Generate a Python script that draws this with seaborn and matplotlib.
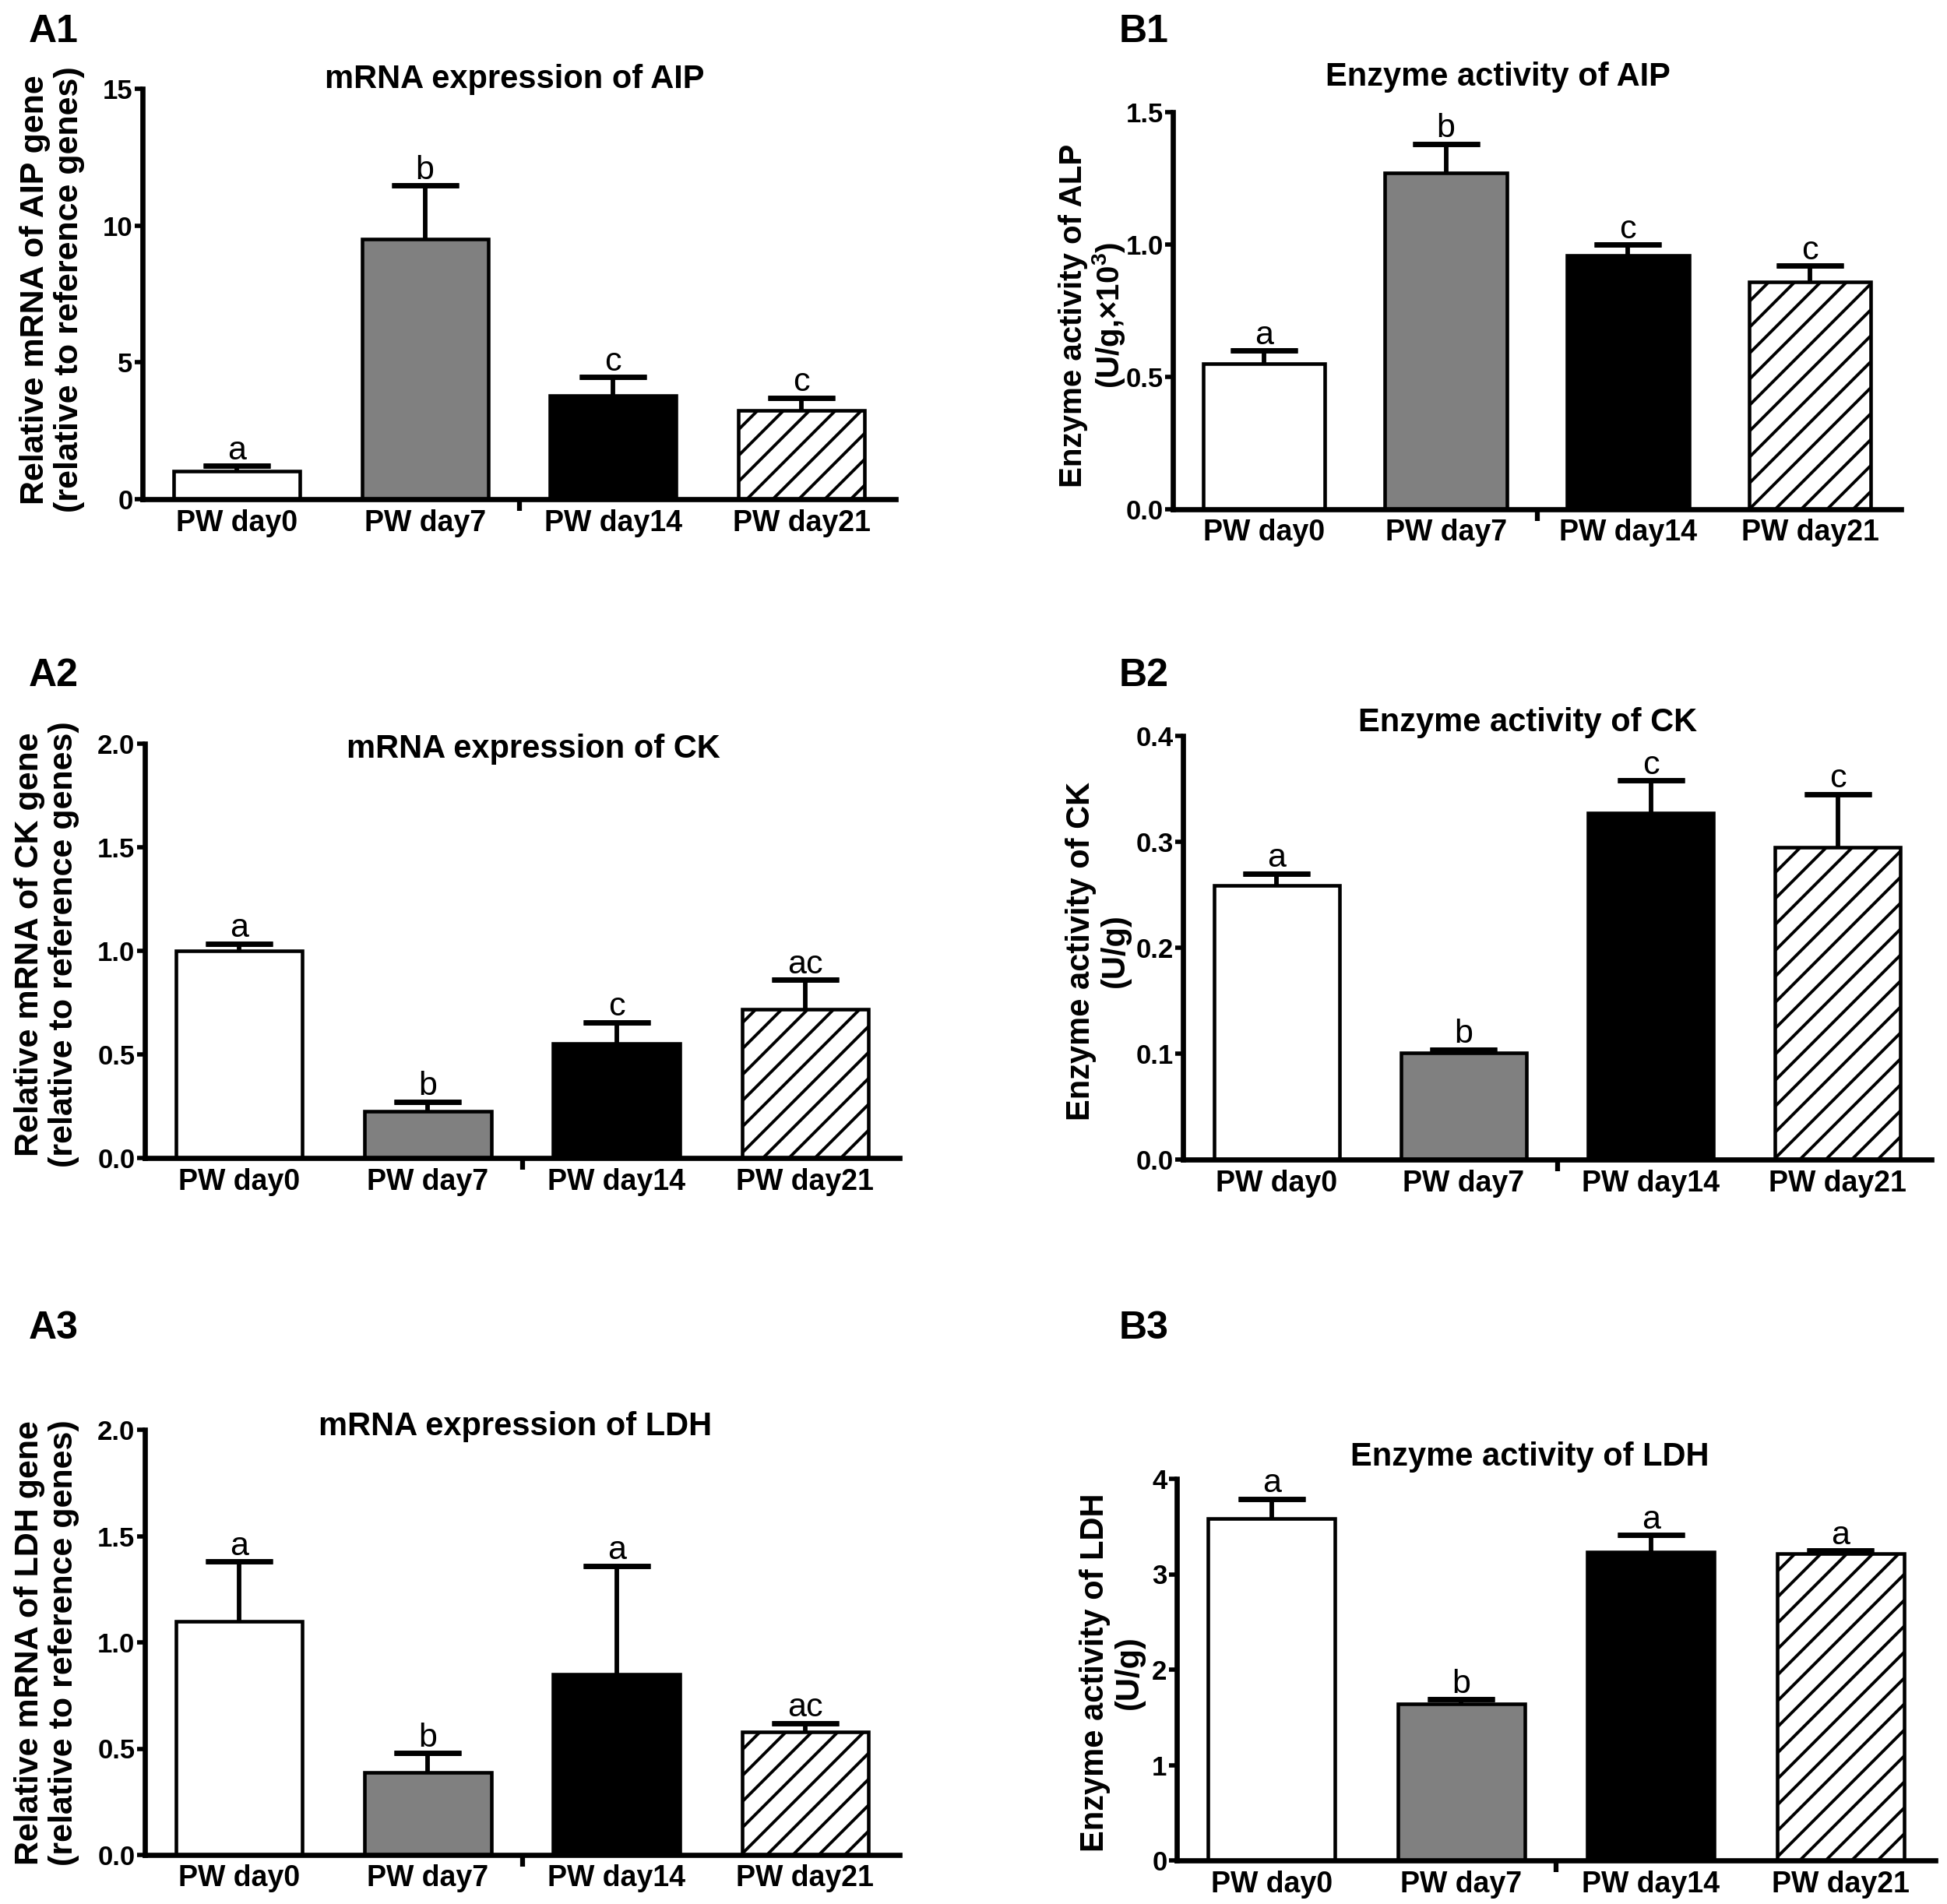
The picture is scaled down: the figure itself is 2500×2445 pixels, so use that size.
import numpy as np
import pandas as pd
import matplotlib
matplotlib.use('Agg')
import matplotlib.pyplot as plt
from matplotlib.ticker import FormatStrFormatter
import seaborn as sns

sns.set_style('white')
plt.rcParams['font.family'] = ['Liberation Sans', 'DejaVu Sans']
plt.rcParams['mathtext.fontset'] = 'custom'
plt.rcParams['mathtext.rm'] = 'Liberation Sans'
plt.rcParams['mathtext.bf'] = 'Liberation Sans:bold'
plt.rcParams['hatch.linewidth'] = 2.8
plt.rcParams['text.color'] = 'black'
plt.rcParams['axes.edgecolor'] = 'black'
plt.rcParams['axes.labelcolor'] = 'black'
plt.rcParams['xtick.color'] = 'black'
plt.rcParams['ytick.color'] = 'black'

groups = ['PW day0', 'PW day7', 'PW day14', 'PW day21']
bar_colors = ['white', '#808080', 'black', 'white']

# A: mRNA expression (relative to reference genes)
aip_mrna = [1.02, 9.52, 3.79, 3.25]
aip_mrna_err = [0.19, 1.95, 0.68, 0.46]
aip_mrna_sig = ['a', 'b', 'c', 'c']

ck_mrna = [1.00, 0.225, 0.553, 0.718]
ck_mrna_err = [0.035, 0.047, 0.103, 0.142]
ck_mrna_sig = ['a', 'b', 'c', 'ac']

ldh_mrna = [1.10, 0.39, 0.85, 0.58]
ldh_mrna_err = [0.28, 0.09, 0.51, 0.04]
ldh_mrna_sig = ['a', 'b', 'a', 'ac']

# B: enzyme activity
alp_act = [0.55, 1.27, 0.96, 0.86]
alp_act_err = [0.05, 0.11, 0.04, 0.06]
alp_act_sig = ['a', 'b', 'c', 'c']

ck_act = [0.259, 0.101, 0.327, 0.295]
ck_act_err = [0.011, 0.003, 0.031, 0.050]
ck_act_sig = ['a', 'b', 'c', 'c']

ldh_act = [3.58, 1.64, 3.23, 3.22]
ldh_act_err = [0.21, 0.05, 0.18, 0.03]
ldh_act_sig = ['a', 'b', 'a', 'a']

W, H = 2500, 2445
fig = plt.figure(figsize=(W / 100, H / 100), dpi=100)


def rect(l, b, r, t):
    return [l / W, 1 - b / H, (r - l) / W, (b - t) / H]


panels = [
    # name, values, errors, letters, axes box px, ymax, yticks, fmt, title, title xy, ylabel, ylabel xy, ylabel size
    ('A1', aip_mrna, aip_mrna_err, aip_mrna_sig, (183, 641, 1150, 114), 15, [0, 5, 10, 15], '%d',
     'mRNA expression of AIP', (661, 102),
     'Relative mRNA of AIP gene\n(relative to reference genes)', (67, 372), 31),
    ('B1', alp_act, alp_act_err, alp_act_sig, (1506, 654, 2441, 144), 1.5, [0, 0.5, 1.0, 1.5], '%.1f',
     'Enzyme activity of AIP', (1923, 99),
     'Enzyme activity of ALP\n(U/g,×10$^{\\mathbf{3}}$)', (1403, 405), 29),
    ('A2', ck_mrna, ck_mrna_err, ck_mrna_sig, (186, 1487, 1155, 955), 2.0, [0, 0.5, 1.0, 1.5, 2.0], '%.1f',
     'mRNA expression of CK', (685, 962),
     'Relative mRNA of CK gene\n(relative to reference genes)', (60, 1213), 31),
    ('B2', ck_act, ck_act_err, ck_act_sig, (1519, 1489, 2480, 945), 0.4, [0, 0.1, 0.2, 0.3, 0.4], '%.1f',
     'Enzyme activity of CK', (1962, 928),
     'Enzyme activity of CK\n(U/g)', (1410, 1221), 30),
    ('A3', ldh_mrna, ldh_mrna_err, ldh_mrna_sig, (186, 2382, 1155, 1836), 2.0, [0, 0.5, 1.0, 1.5, 2.0], '%.1f',
     'mRNA expression of LDH', (662, 1832),
     'Relative mRNA of LDH gene\n(relative to reference genes)', (60, 2110), 31),
    ('B3', ldh_act, ldh_act_err, ldh_act_sig, (1511, 2389, 2485, 1899), 4, [0, 1, 2, 3, 4], '%d',
     'Enzyme activity of LDH', (1964, 1871),
     'Enzyme activity of LDH\n(U/g)', (1428, 2148), 30),
]

panel_label_pos = {'A1': (37, 54), 'B1': (1437, 54), 'A2': (37, 881), 'B2': (1437, 881),
                   'A3': (37, 1719), 'B3': (1437, 1719)}

for (name, vals, errs, sig, box, ymax, yticks, fmt, title, txy, ylab, lxy, lsize) in panels:
    ax = fig.add_axes(rect(*box))
    df = pd.DataFrame({'group': groups, 'value': vals})
    sns.barplot(data=df, x='group', y='value', hue='group', palette=bar_colors,
                width=0.67, edgecolor='black', linewidth=3.3, errorbar=None,
                saturation=1, legend=False, ax=ax, zorder=2)
    ax.patches[3].set_hatch('/')

    xs = np.arange(len(groups))
    tops = np.array(vals) + np.array(errs)
    # stem from bar top upwards, cap only at the upper end
    ax.errorbar(xs, vals, yerr=[np.zeros(len(vals)), errs], fmt='none', ecolor='black',
                elinewidth=4.2, capsize=0, zorder=1)
    ax.errorbar(xs, tops, yerr=np.zeros(len(vals)), fmt='none', ecolor='black',
                elinewidth=0, capsize=31, capthick=4.8, zorder=1)
    for x, t, s in zip(xs, tops, sig):
        ax.annotate(s, (x, t), xytext=(0, 6), textcoords='offset points',
                    ha='center', va='baseline', fontsize=31, annotation_clip=False)

    ax.set_xlim(-0.5, 3.5)
    ax.set_ylim(0, ymax)
    ax.set_yticks(yticks)
    ax.yaxis.set_major_formatter(FormatStrFormatter(fmt))
    ax.set_xlabel('')
    ax.set_ylabel('')
    sns.despine(ax=ax)
    for sp in ['left', 'bottom']:
        ax.spines[sp].set_linewidth(4.8)
    ax.tick_params(axis='y', direction='out', length=7, width=4, pad=2, labelsize=25, left=True)
    ax.tick_params(axis='x', which='major', length=0, pad=9, labelsize=27)
    ax.set_xticks([1.5], minor=True)
    ax.tick_params(axis='x', which='minor', direction='out', length=11, width=4.5, bottom=True)
    for lab in ax.get_xticklabels() + ax.get_yticklabels():
        lab.set_fontweight('bold')

    fig.text(txy[0] / W, 1 - txy[1] / H, title, ha='center', va='center',
             fontsize=30, fontweight='bold')
    fig.text(lxy[0] / W, 1 - lxy[1] / H, ylab, rotation=90, ha='center', va='center',
             multialignment='center', fontsize=lsize, fontweight='bold', linespacing=1.1)
    px, py = panel_label_pos[name]
    fig.text(px / W, 1 - py / H, name, ha='left', va='baseline', fontsize=36, fontweight='bold')

fig.savefig('out.png', dpi=100, facecolor='white')
